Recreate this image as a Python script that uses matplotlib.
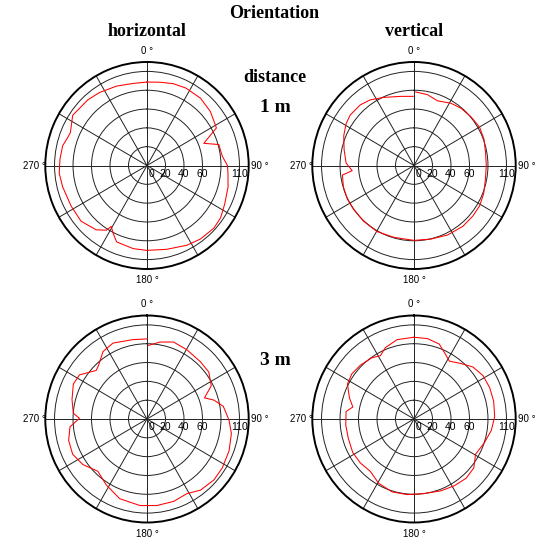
import numpy as np
import matplotlib
matplotlib.use('Agg')
import matplotlib.pyplot as plt

# angle (deg, clockwise from top) and radius readings for each panel
h1_ang = [0, 9, 18, 27, 39, 50, 59, 62, 69, 74, 83, 90, 95.5, 104.6, 116, 125, 132.6,
          143.5, 153, 166.5, 180, 189.6, 202, 207, 210.8, 212.6, 218.8, 230.3, 242.4,
          256, 265, 274, 283, 289, 293, 303.6, 309.7, 317.5, 326.6, 338.6, 350.3, 360]
h1_r = [88.7, 89.6, 91.5, 92.4, 92, 89.4, 85.8, 85, 65.8, 80.8, 82, 87, 88, 90.6, 93.5,
        97.1, 98.3, 97.2, 95.1, 91.6, 90.2, 89.6, 87.6, 80.8, 75.4, 81.6, 87.7, 92.7, 92.7,
        94, 95.3, 94.4, 93.6, 90.8, 90, 96.5, 95, 94.7, 93, 90.6, 88.5, 88.7]

v1_ang = [1.3, 10.9, 20.3, 31.1, 40, 50.1, 60.1, 69.7, 80.1, 90, 101.5, 111.8, 121.2,
          130.2, 140.8, 153.8, 166.9, 180, 196, 209.7, 222.6, 234.6, 243.7, 253.3, 262.5,
          265.3, 272, 282.7, 292.6, 301.1, 307.7, 317.9, 325.9, 335.7, 348.8, 359.4]
v1_r = [78.2, 76.7, 73.3, 77.3, 79.3, 80.5, 81.8, 80.7, 78.6, 78.2, 78.7, 81.1, 82.9,
        83.3, 83.5, 82.3, 80.3, 79.6, 79.4, 80.8, 80.5, 80.3, 80.4, 79.7, 78.1,
        67.1, 73.5, 77.5, 82.3, 85.8, 87.4, 86.8, 84.3, 79.4, 74.9, 73.5]

h3_ang = [1, 9.8, 19.3, 30.5, 43.6, 53.3, 63.1, 70.1, 74.5, 80.7, 90.7, 99.7, 110.9,
          122.6, 131.8, 142.6, 151.4, 161.8, 173.5, 184.7, 199.2, 212.1, 223.7, 235.1,
          245, 254.9, 264.3, 270.6, 274.4, 284.3, 295, 302.7, 313.2, 317.5, 326.4,
          335.5, 350, 360]
h3_r = [78.2, 83, 86.7, 85.3, 83.9, 83.4, 77.9, 66.1, 75.1, 83.6, 88.7, 92.6, 95,
        96.6, 97.1, 95.2, 90.3, 92.2, 92.6, 92.3, 89.7, 82.8, 76.9, 84.6,
        88.7, 87.8, 83.7, 73.1, 79.9, 83.7, 87.9, 86.8, 75.4, 77.5, 86,
        88.7, 85.7, 85.1]

v3_ang = [0, 9.7, 18.9, 25.6, 31.9, 40.8, 49, 58.2, 67.8, 77.6, 88.3, 98.2, 108, 119.4,
          128.8, 138.1, 148.4, 159.1, 172.2, 185.2, 197, 209.2, 220.4, 231.3, 241.7,
          253.4, 265, 276.2, 280.9, 287.9, 297.3, 305.5, 314.5, 325, 331.6, 337.9,
          347.8, 360]
v3_r = [86.9, 86.7, 84.2, 77.4, 72.4, 77.9, 84.3, 87.7, 88.4, 88.2, 87.3, 84.5, 80.3,
        76.4, 83, 84.5, 83.3, 81.7, 80, 80.7, 81, 78.3, 73, 74.5, 75.2,
        74, 74.1, 73.9, 67.4, 73.4, 81, 82.6, 81.5, 79.4, 76.5, 82,
        86.3, 86.9]

ring_values = [20, 40, 60, 80, 100]
radial_label_pos = [0, 20, 40, 60, 100]
radial_label_txt = ['0', '20', '40', '60', '110']
theta_ticks = list(range(0, 360, 30))
theta_labels = ['0 °' if t == 0 else '90 °' if t == 90 else '180 °' if t == 180
                else '270 °' if t == 270 else '' for t in theta_ticks]

serif = 'Liberation Serif'
sans = 'Liberation Sans'

fig = plt.figure(figsize=(5.48, 5.41), dpi=100)

W, H = 548.0, 541.0
rx, ry = 101.7, 103.5
centers = [(147, 165.5), (414, 165.5), (147, 419), (414, 419)]
panels = [(h1_ang, h1_r), (v1_ang, v1_r), (h3_ang, h3_r), (v3_ang, v3_r)]

for (cx, cy), (ang, rad) in zip(centers, panels):
    ax = fig.add_axes([(cx - rx) / W, 1 - (cy + ry) / H, 2 * rx / W, 2 * ry / H],
                      projection='polar')
    ax.set_aspect('auto')
    ax.set_theta_zero_location('N')
    ax.set_theta_direction(-1)
    ax.set_ylim(0, 110)
    ax.plot(np.deg2rad(ang), rad, color='red', lw=0.75, zorder=3)
    ax.set_rgrids(ring_values, labels=[''] * len(ring_values))
    ax.set_thetagrids(theta_ticks, labels=theta_labels, fontsize=7, family=sans)
    ax.tick_params(axis='x', pad=-2.5)
    ax.grid(True, color='#222222', lw=0.7)
    ax.spines['polar'].set_linewidth(1.4)
    ax.spines['polar'].set_color('black')
    for pos, txt in zip(radial_label_pos, radial_label_txt):
        dx = 3.5 if pos == 0 else 0
        ax.annotate(txt, xy=(np.deg2rad(90), pos), xytext=(dx, -2.5),
                    textcoords='offset points', ha='center', va='top',
                    fontsize=7.5, family=sans, zorder=4)

fig.text(274 / W, 1 - 14 / H, 'Orientation', ha='center', va='center',
         fontsize=13, fontweight='bold', family=serif)
fig.text(147 / W, 1 - 32 / H, 'horizontal', ha='center', va='center',
         fontsize=13, fontweight='bold', family=serif)
fig.text(414 / W, 1 - 32 / H, 'vertical', ha='center', va='center',
         fontsize=13, fontweight='bold', family=serif)
fig.text(275 / W, 1 - 77 / H, 'distance', ha='center', va='center',
         fontsize=13, fontweight='bold', family=serif)
fig.text(275 / W, 1 - 108 / H, '1 m', ha='center', va='center',
         fontsize=14, fontweight='bold', family=serif)
fig.text(275 / W, 1 - 360.5 / H, '3 m', ha='center', va='center',
         fontsize=14, fontweight='bold', family=serif)

fig.savefig('out.png', dpi=100)
